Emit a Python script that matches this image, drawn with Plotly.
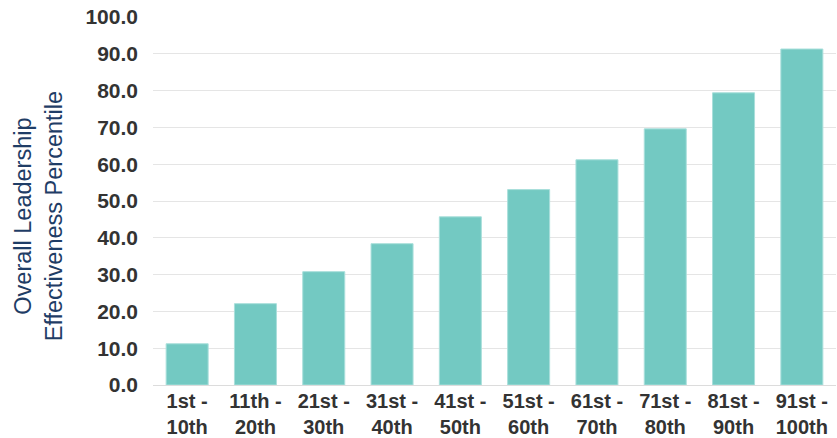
import plotly.graph_objects as go

categories = ["1st -<br>10th", "11th -<br>20th", "21st -<br>30th", "31st -<br>40th",
              "41st -<br>50th", "51st -<br>60th", "61st -<br>70th", "71st -<br>80th",
              "81st -<br>90th", "91st -<br>100th"]
values = [11.2, 22.1, 30.8, 38.4, 45.7, 53.1, 61.2, 69.6, 79.4, 91.3]
y_ticks = [0, 10, 20, 30, 40, 50, 60, 70, 80, 90, 100]
y_title = "Overall Leadership<br>Effectiveness Percentile"

fig = go.Figure(go.Bar(
    x=categories, y=values,
    marker=dict(color="#73c9c2", line=dict(color="#a9dfdb", width=1)),
))

fig.update_layout(
    width=837, height=438,
    margin=dict(l=153, r=1, t=17, b=53),
    paper_bgcolor="white", plot_bgcolor="white",
    bargap=0.385,
    showlegend=False,
    font=dict(family="Liberation Sans, Arial, sans-serif"),
    annotations=[dict(
        text=y_title, textangle=-90, xref="paper", yref="paper",
        x=-0.168, y=0.5, xanchor="center", yanchor="middle", yshift=-15,
        showarrow=False, align="center",
        font=dict(size=23.5, color="#1f3d66"),
    )],
)
fig.update_xaxes(
    showgrid=False, showline=False, zeroline=False,
    tickfont=dict(size=20, color="#333333", family="Liberation Sans, Arial, sans-serif", weight="bold"),
    ticklabelstandoff=2,
)
fig.update_yaxes(
    range=[0, 100], tickvals=y_ticks, ticktext=[f"{v:.1f}" for v in y_ticks],
    showgrid=True, gridcolor="#e5e5e5", gridwidth=1,
    zeroline=True, zerolinecolor="#dcdcdc", zerolinewidth=1,
    showline=False,
    tickfont=dict(size=21, color="#333333", family="Liberation Sans, Arial, sans-serif", weight="bold"),
    ticklabelstandoff=14,
)

fig.write_html("out.html")
